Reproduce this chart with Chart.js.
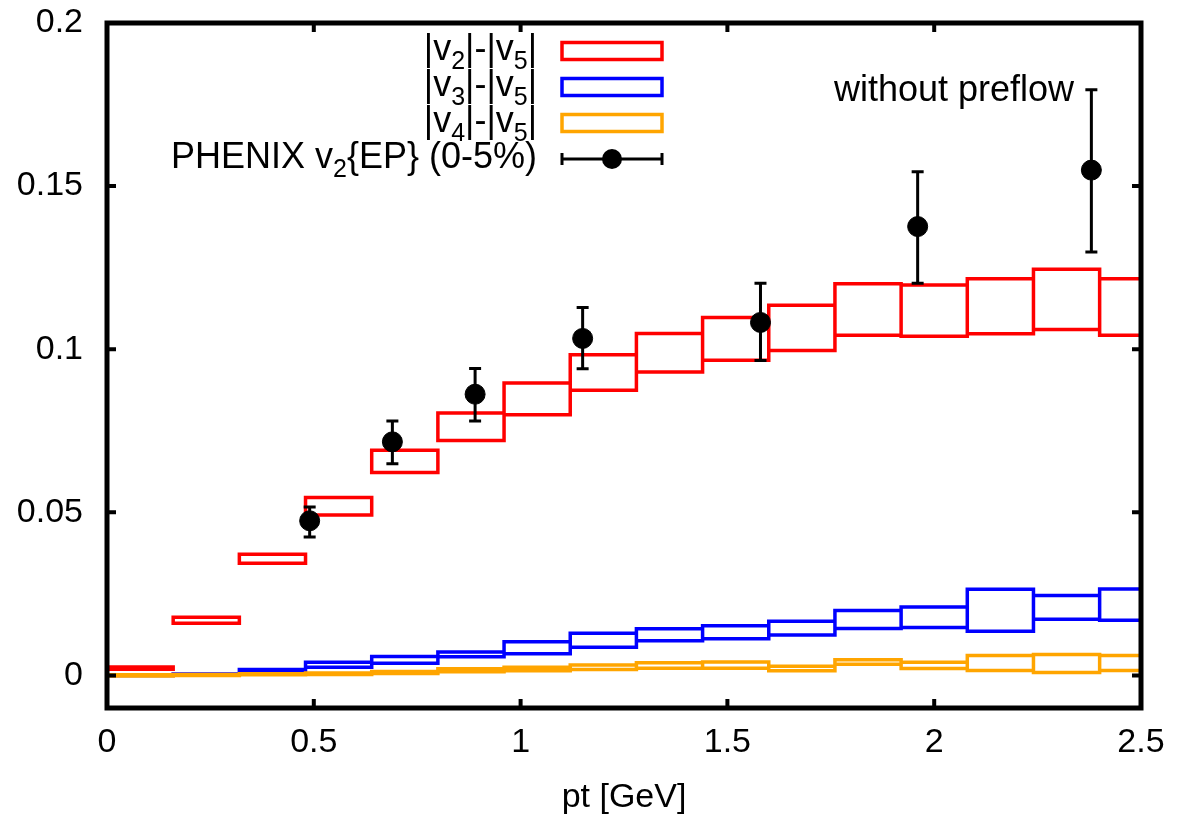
<!DOCTYPE html>
<html>
<head>
<meta charset="utf-8">
<title>v_n - v_5 vs pt</title>
<script src="https://cdn.jsdelivr.net/npm/chart.js@4.4.1/dist/chart.umd.min.js"></script>
<style>
  html, body { margin: 0; padding: 0; background: #fff; }
  #wrap { width: 1181px; height: 820px; }
</style>
</head>
<body>
<div id="wrap"><canvas id="flowChart" width="1181" height="820"></canvas></div>
<script>
// pt bin edges [GeV]
const binEdges = [0, 0.16, 0.32, 0.48, 0.64, 0.80, 0.96, 1.12, 1.28, 1.44, 1.60, 1.76, 1.92, 2.08, 2.24, 2.40, 2.56];

// band limits per bin (lower / upper)
const v2Lo = [0.0019, 0.0160, 0.0344, 0.0492, 0.0622, 0.0720, 0.0799, 0.0874, 0.0930, 0.0966, 0.0996, 0.1043, 0.1040, 0.1047, 0.1060, 0.1043];
const v2Hi = [0.0026, 0.0178, 0.0371, 0.0545, 0.0690, 0.0804, 0.0896, 0.0983, 0.1048, 0.1097, 0.1135, 0.1201, 0.1197, 0.1216, 0.1245, 0.1216];
const v3Lo = [0.0000, 0.0002, 0.0012, 0.0025, 0.0037, 0.0057, 0.0066, 0.0086, 0.0106, 0.0112, 0.0124, 0.0144, 0.0147, 0.0135, 0.0172, 0.0169];
const v3Hi = [0.0002, 0.0004, 0.0018, 0.0040, 0.0058, 0.0072, 0.0103, 0.0129, 0.0143, 0.0152, 0.0166, 0.0199, 0.0210, 0.0264, 0.0245, 0.0265];
const v4Lo = [-0.0002, 0.0000, 0.0002, 0.0003, 0.0006, 0.0011, 0.0014, 0.0018, 0.0022, 0.0022, 0.0014, 0.0034, 0.0021, 0.0015, 0.0009, 0.0015];
const v4Hi = [0.0002, 0.0003, 0.0005, 0.0007, 0.0012, 0.0020, 0.0025, 0.0032, 0.0039, 0.0041, 0.0028, 0.0048, 0.0040, 0.0061, 0.0064, 0.0061];

// PHENIX v2{EP} 0-5%
const ptX   = [0.49, 0.69, 0.89, 1.15, 1.58, 1.96, 2.38];
const ptV2  = [0.0474, 0.0716, 0.0862, 0.1033, 0.1082, 0.1376, 0.1549];
const errLo = [0.0424, 0.0649, 0.0780, 0.0940, 0.0965, 0.1202, 0.1298];
const errHi = [0.0516, 0.0780, 0.0941, 0.1128, 0.1202, 0.1544, 0.1795];

const xTicks = [0, 0.5, 1, 1.5, 2, 2.5];
const yTicks = [0, 0.05, 0.1, 0.15, 0.2];

const FONT = '"Liberation Sans", Arial, Helvetica, sans-serif';
const FS = 34;      // axis text
const KEY_FS = 36;  // key and annotation text

// outline of each bin as a closed rectangle, bins separated by a gap point
function boxPath(lo, hi) {
  const pts = [];
  for (let i = 0; i < lo.length; i++) {
    const a = binEdges[i], b = binEdges[i + 1];
    pts.push({ x: a, y: lo[i] }, { x: b, y: lo[i] }, { x: b, y: hi[i] }, { x: a, y: hi[i] }, { x: a, y: lo[i] });
    pts.push({ x: a, y: null });
  }
  return pts;
}

function boxDataset(label, lo, hi, color, order) {
  return {
    label: label,
    type: 'line',
    data: boxPath(lo, hi),
    borderColor: color,
    borderWidth: 3.5,
    borderJoinStyle: 'miter',
    borderCapStyle: 'square',
    showLine: true,
    spanGaps: false,
    pointRadius: 0,
    fill: false,
    order: order
  };
}

// text with subscripts, parts = [[text, isSub], ...]
function drawRich(ctx, parts, x, baseY, align) {
  const big = KEY_FS + 'px ' + FONT, small = Math.round(KEY_FS * 0.7) + 'px ' + FONT;
  let w = 0;
  parts.forEach(p => { ctx.font = p[1] ? small : big; w += ctx.measureText(p[0]).width; });
  let cx = align === 'right' ? x - w : x;
  ctx.textAlign = 'left';
  ctx.textBaseline = 'alphabetic';
  parts.forEach(p => {
    ctx.font = p[1] ? small : big;
    ctx.fillText(p[0], cx, p[1] ? baseY + 9 : baseY);
    cx += ctx.measureText(p[0]).width;
  });
}

const errorBars = {
  id: 'errorBars',
  afterDatasetsDraw(chart) {
    const { ctx, scales: { x, y } } = chart;
    ctx.save();
    ctx.strokeStyle = '#000';
    ctx.lineWidth = 3;
    ctx.beginPath();
    ptX.forEach((v, i) => {
      const px = x.getPixelForValue(v);
      const top = y.getPixelForValue(errHi[i]), bot = y.getPixelForValue(errLo[i]);
      ctx.moveTo(px, top); ctx.lineTo(px, bot);
      ctx.moveTo(px - 6, top); ctx.lineTo(px + 6, top);
      ctx.moveTo(px - 6, bot); ctx.lineTo(px + 6, bot);
    });
    ctx.stroke();
    ctx.restore();
  }
};

const frame = {
  id: 'frame',
  afterDraw(chart) {
    const { ctx, chartArea: a, scales: { x, y } } = chart;
    ctx.save();
    ctx.strokeStyle = '#000';
    ctx.lineWidth = 4;
    const len = 9;
    ctx.beginPath();
    xTicks.forEach(v => {
      const px = x.getPixelForValue(v);
      ctx.moveTo(px, a.bottom); ctx.lineTo(px, a.bottom - len);
      ctx.moveTo(px, a.top); ctx.lineTo(px, a.top + len);
    });
    yTicks.forEach(v => {
      const py = y.getPixelForValue(v);
      ctx.moveTo(a.left, py); ctx.lineTo(a.left + len, py);
      ctx.moveTo(a.right, py); ctx.lineTo(a.right - len, py);
    });
    ctx.stroke();
    ctx.lineWidth = 5;
    ctx.strokeRect(a.left, a.top, a.right - a.left, a.bottom - a.top);

    // key
    ctx.fillStyle = '#000';
    const keyRight = 537, sx0 = 562, sx1 = 662;
    const rows = [
      { parts: [['|v', 0], ['2', 1], ['|-|v', 0], ['5', 1], ['|', 0]], color: '#ff0000', cy: 51 },
      { parts: [['|v', 0], ['3', 1], ['|-|v', 0], ['5', 1], ['|', 0]], color: '#0000ff', cy: 87 },
      { parts: [['|v', 0], ['4', 1], ['|-|v', 0], ['5', 1], ['|', 0]], color: '#ffa500', cy: 123 }
    ];
    rows.forEach(r => {
      drawRich(ctx, r.parts, keyRight, r.cy + 9, 'right');
      ctx.strokeStyle = r.color;
      ctx.lineWidth = 3.5;
      ctx.strokeRect(sx0, r.cy - 8.5, sx1 - sx0, 17);
    });
    drawRich(ctx, [['PHENIX v', 0], ['2', 1], ['{EP} (0-5%)', 0]], keyRight, 168, 'right');
    const ey = 159;
    ctx.strokeStyle = '#000';
    ctx.lineWidth = 3;
    ctx.beginPath();
    ctx.moveTo(sx0, ey); ctx.lineTo(sx1, ey);
    ctx.moveTo(sx0, ey - 6); ctx.lineTo(sx0, ey + 6);
    ctx.moveTo(sx1, ey - 6); ctx.lineTo(sx1, ey + 6);
    ctx.stroke();
    ctx.beginPath();
    ctx.arc((sx0 + sx1) / 2, ey, 10, 0, Math.PI * 2);
    ctx.fill();

    ctx.font = KEY_FS + 'px ' + FONT;
    ctx.textAlign = 'left';
    ctx.textBaseline = 'alphabetic';
    ctx.fillText('without preflow', 834, 101);
    ctx.restore();
  }
};

Chart.defaults.font.family = FONT;
Chart.defaults.color = '#000';

new Chart(document.getElementById('flowChart'), {
  type: 'scatter',
  data: {
    datasets: [
      {
        label: 'PHENIX v2{EP} (0-5%)',
        data: ptX.map((v, i) => ({ x: v, y: ptV2[i] })),
        backgroundColor: '#000',
        borderColor: '#000',
        pointRadius: 10,
        order: 0
      },
      boxDataset('|v4|-|v5|', v4Lo, v4Hi, '#ffa500', 1),
      boxDataset('|v3|-|v5|', v3Lo, v3Hi, '#0000ff', 2),
      boxDataset('|v2|-|v5|', v2Lo, v2Hi, '#ff0000', 3)
    ]
  },
  options: {
    responsive: false,
    animation: false,
    layout: { padding: { left: 0, right: 40, top: 23, bottom: 0 } },
    plugins: {
      legend: { display: false },
      tooltip: { enabled: false }
    },
    scales: {
      x: {
        type: 'linear',
        min: 0,
        max: 2.5,
        afterBuildTicks: s => { s.ticks = xTicks.map(v => ({ value: v })); },
        afterFit: s => { s.height = 112; s.paddingLeft = 0; s.paddingRight = 0; },
        grid: { display: false, drawTicks: false },
        border: { display: false },
        ticks: { font: { size: FS }, padding: 14, maxRotation: 0, callback: v => String(v) },
        title: { display: true, text: 'pt [GeV]', font: { size: FS }, padding: { top: 0, bottom: 2 } }
      },
      y: {
        type: 'linear',
        min: -0.01,
        max: 0.2,
        afterBuildTicks: s => { s.ticks = yTicks.map(v => ({ value: v })); },
        afterFit: s => { s.width = 107; s.paddingTop = 0; s.paddingBottom = 0; },
        grid: { display: false, drawTicks: false },
        border: { display: false },
        ticks: { font: { size: FS }, padding: 24, callback: v => String(v) }
      }
    }
  },
  plugins: [errorBars, frame]
});
</script>
</body>
</html>
